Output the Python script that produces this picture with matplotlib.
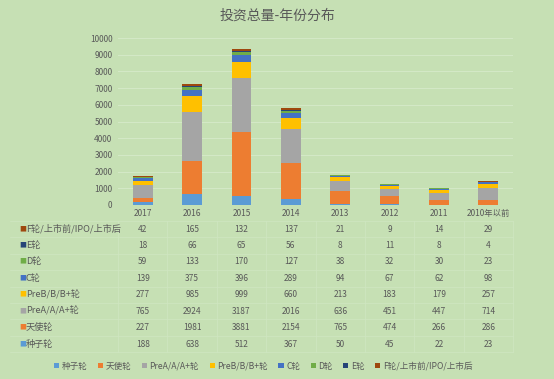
import numpy as np
import matplotlib.pyplot as plt
import matplotlib.transforms as mtransforms
from matplotlib.patches import Patch

plt.rcParams['font.family'] = ['Noto Sans CJK SC', 'DejaVu Sans']

years = ['2017', '2016', '2015', '2014', '2013', '2012', '2011', '2010年以前']
series_names = ['种子轮', '天使轮', 'PreA/A/A+轮', 'PreB/B/B+轮', 'C轮', 'D轮', 'E轮', 'F轮/上市前/IPO/上市后']
seed = [188, 638, 512, 367, 50, 45, 22, 23]
angel = [227, 1981, 3881, 2154, 765, 474, 266, 286]
pre_a = [765, 2924, 3187, 2016, 636, 451, 447, 714]
pre_b = [277, 985, 999, 660, 213, 183, 179, 257]
c_round = [139, 375, 396, 289, 94, 67, 62, 98]
d_round = [59, 133, 170, 127, 38, 32, 30, 23]
e_round = [18, 66, 65, 56, 8, 11, 8, 4]
f_round = [42, 165, 132, 137, 21, 9, 14, 29]

series = [seed, angel, pre_a, pre_b, c_round, d_round, e_round, f_round]
colors = ['#5B9BD5', '#ED7D31', '#A5A5A5', '#FFC000', '#4472C4', '#70AD47', '#264478', '#9E480E']

bg = '#C6E0B4'
txt = '#595959'
W, H = 554, 379

fig = plt.figure(figsize=(W / 100, H / 100), dpi=100, facecolor=bg)
ax = fig.add_axes([118 / W, 1 - 205 / H, 395 / W, 167 / H])
ax.set_facecolor(bg)

x = np.arange(len(years))
bottom = np.zeros(len(years))
for vals, col in zip(series, colors):
    ax.bar(x, vals, 0.4, bottom=bottom, color=col, zorder=3)
    bottom += np.array(vals)

ax.set_xlim(-0.5, len(years) - 0.5)
ax.set_ylim(0, 10000)
ax.set_yticks(range(0, 10001, 1000))
ax.yaxis.grid(True, color='#D3E8C6', linewidth=0.8, zorder=0)
ax.set_xticks(x)
ax.set_xticklabels(years)
ax.tick_params(length=0, labelsize=6, colors=txt, pad=4)
ax.tick_params(axis='x', pad=3)
for s in ax.spines.values():
    s.set_visible(False)

fig.text(0.5, 1 - 16 / H, '投资总量-年份分布', ha='center', va='center', fontsize=10, color=txt)

# data table under the chart
trans = mtransforms.blended_transform_factory(ax.transData, fig.transFigure)
row_y0 = 229
row_step = 16.45
rows = list(range(len(series)))[::-1]  # F on top, seed at bottom
line_col = '#CFE6C1'
for i, k in enumerate(rows):
    yp = 1 - (row_y0 + i * row_step) / H
    fig.text(19 / W, yp, '■', color=colors[k], fontsize=5, va='center', ha='left')
    fig.text(26 / W, yp, series_names[k], color=txt, fontsize=6.6, va='center', ha='left')
    for j, v in enumerate(series[k]):
        ax.text(x[j], yp, str(v), transform=trans, ha='center', va='center', fontsize=6, color=txt)

for i in range(len(series) + 1):
    yl = 1 - (row_y0 - row_step / 2 + i * row_step) / H
    fig.add_artist(plt.Line2D([10 / W, 513 / W], [yl, yl], color=line_col, lw=0.5))
for j in range(len(years) + 1):
    xl = (118 + j * 395 / len(years)) / W
    fig.add_artist(plt.Line2D([xl, xl], [1 - (row_y0 - row_step / 2) / H, 1 - (row_y0 - row_step / 2 + 8 * row_step) / H],
                              color=line_col, lw=0.5))

handles = [Patch(facecolor=c, edgecolor='none') for c in colors]
leg = fig.legend(handles, series_names, loc='center', bbox_to_anchor=(0.475, 1 - 366 / H), ncol=8,
                 frameon=False, fontsize=6.2, handlelength=0.6, handleheight=0.6, handletextpad=0.3,
                 columnspacing=1.2)
for t in leg.get_texts():
    t.set_color(txt)

fig.savefig('out.png', dpi=100, facecolor=bg)
